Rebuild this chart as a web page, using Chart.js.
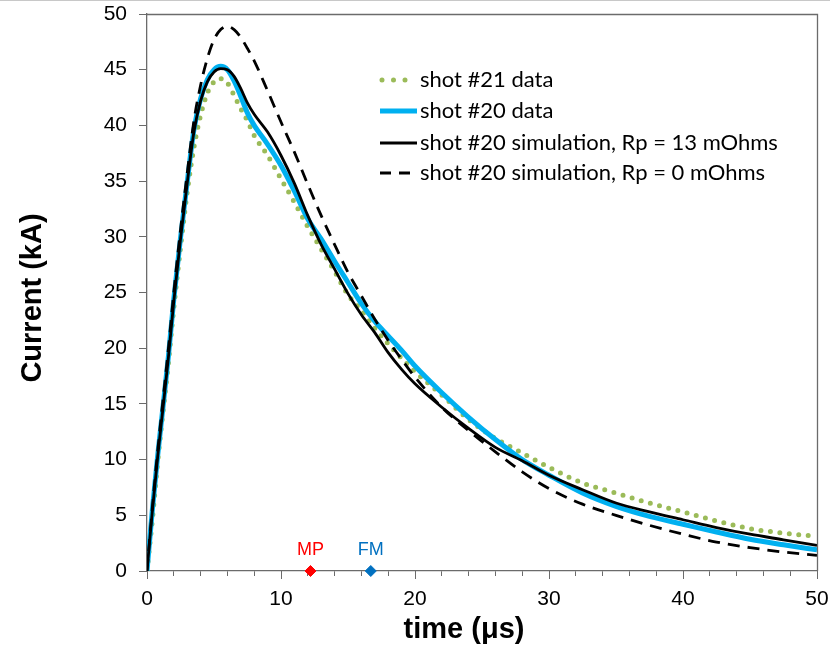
<!DOCTYPE html>
<html><head><meta charset="utf-8">
<script src="https://cdn.jsdelivr.net/npm/chart.js@4.4.1/dist/chart.umd.min.js"></script>
<style>html,body{margin:0;padding:0;background:#fff;overflow:hidden}#wrap{width:830px;height:659px;position:relative}</style>
</head><body><div id="wrap"><canvas id="c" width="830" height="659"></canvas></div>
<script>
// time axis (µs)
const timeUs = [0,0.4,0.8,1.2,1.6,2,2.5,3,3.5,4,4.5,5,5.5,6,6.5,7,7.5,8,9,10,11,12,13,14,15,16,17,18,19,20,22,24,26,28,30,32.5,35,37.5,40,42.5,45,47.5,50];
// currents (kA)
const shot21Data = [0,4.6,9.8,14.3,18.7,23.6,29.0,34.0,38.0,40.9,42.9,43.9,44.2,43.8,42.7,41.5,40.4,39.1,37.3,35.2,33.1,30.9,28.9,26.9,24.8,23.4,21.8,20.4,19.1,17.9,15.8,13.6,11.9,10.6,9.3,7.9,7.0,6.1,5.3,4.5,3.8,3.4,3.1];
const shot20Data = [0,5.5,10.4,14.8,19.3,24.4,29.9,34.9,39.6,42.4,44.1,45.0,45.3,45.0,44.0,42.6,41.1,40.0,38.3,36.4,34.1,31.6,29.8,27.8,25.9,24.0,22.4,21.1,19.8,18.4,16.0,13.8,11.8,10.0,8.6,7.0,5.8,4.9,4.2,3.5,2.85,2.35,1.9];
const sim13mOhm = [0,5.4,10.3,14.7,19.2,24.2,29.8,34.8,39.4,42.2,43.9,44.8,45.1,45.0,44.4,43.3,42.0,41.0,39.4,37.3,34.8,31.9,29.3,27.1,24.9,23.0,21.4,19.6,18.1,16.8,14.7,12.8,11.1,9.9,8.6,7.3,6.1,5.3,4.6,3.9,3.3,2.8,2.3];
const sim0mOhm = [0,5.7,10.8,15.4,20.0,25.0,30.6,35.7,40.4,43.6,46.0,47.7,48.6,48.9,48.6,47.9,46.9,45.8,43.1,40.3,37.6,34.7,31.9,29.3,26.8,24.7,22.6,20.7,19.0,17.4,14.7,12.6,10.7,8.9,7.4,6.0,5.0,4.1,3.3,2.6,2.1,1.7,1.4];
const seriesLabels = ['shot #21 data','shot #20 data','shot #20 simulation, Rp = 13 mOhms','shot #20 simulation, Rp = 0 mOhms'];
// event markers on the time axis
const markerLabels = ['MP','FM'];
const markerTimes = [12.2,16.7];
const markerValues = [0,0];
// axis ticks
const xMin = 0, xMax = 50, xMajorStep = 10, xMinorStep = 2;
const yMin = 0, yMax = 50, yStep = 5;
const xTitle = 'time (\u03bcs)';
const yTitle = 'Current (kA)';

const pts = arr => timeUs.map((t,i)=>({x:t,y:arr[i]}));
const AXIS = '#6b6b6b';
const TICKFONT = {family:'"Liberation Sans", Arial, sans-serif', size:21};
const TITLEFONT = 'bold 29px "Liberation Sans", Arial, sans-serif';

const lineStyles = [
  {borderColor:'#9BBB59', borderWidth:5, borderDash:[0,9.5], borderCapStyle:'round', order:4},
  {borderColor:'#00B0F0', borderWidth:5, borderDash:[], borderCapStyle:'butt', order:3},
  {borderColor:'#000000', borderWidth:2.8, borderDash:[], borderCapStyle:'butt', order:2},
  {borderColor:'#000000', borderWidth:2.8, borderDash:[12,8], borderCapStyle:'butt', order:1}
];
const seriesData = [shot21Data, shot20Data, sim13mOhm, sim0mOhm];
const markerColors = ['#FF0000','#0070C0'];

const datasets = seriesData.map((d,i)=>Object.assign({
  label: seriesLabels[i], data: pts(d), showLine:true, pointRadius:0, fill:false,
  cubicInterpolationMode:'monotone', isSeries:true
}, lineStyles[i]));
markerLabels.forEach((m,i)=>{
  datasets.push({label:m, data:[{x:markerTimes[i], y:markerValues[i]}], showLine:false,
    pointStyle:'rectRot', pointRadius:5.5, pointBackgroundColor:markerColors[i], pointBorderColor:markerColors[i],
    pointBorderWidth:1, clip:false, order:0, isMarker:true, markerColor:markerColors[i]});
});

const decorPlugin = {
  id:'decor',
  beforeDraw(chart){
    const c = chart.ctx;
    c.save(); c.strokeStyle='#c8c8c8'; c.lineWidth=1;
    c.beginPath(); c.moveTo(0,0.5); c.lineTo(chart.width,0.5); c.stroke(); c.restore();
  },
  afterDraw(chart){
    const c = chart.ctx, a = chart.chartArea;
    const xs = chart.scales.x;
    c.save();
    c.strokeStyle = AXIS; c.lineWidth = 1.3;
    c.beginPath();
    c.moveTo(a.left-0.5, Math.round(a.top)+0.5); c.lineTo(Math.round(a.right)+0.5, Math.round(a.top)+0.5);
    c.lineTo(Math.round(a.right)+0.5, a.bottom);
    c.stroke();
    // longer major ticks
    c.lineWidth = 1;
    for (let v = xMin; v <= xMax; v += xMajorStep){
      const px = Math.round(xs.getPixelForValue(v))+0.5;
      c.beginPath(); c.moveTo(px, a.bottom); c.lineTo(px, a.bottom+8); c.stroke();
    }
    // axis titles
    c.fillStyle='#000'; c.font = TITLEFONT; c.textAlign='center'; c.textBaseline='middle';
    c.fillText(xTitle, 464, 630);
    c.save(); c.translate(33, 298); c.rotate(-Math.PI/2); c.fillText(yTitle, 0, 0); c.restore();
    // marker labels
    chart.data.datasets.forEach((ds,i)=>{
      if(!ds.isMarker) return;
      const p = chart.getDatasetMeta(i).data[0];
      c.fillStyle = ds.markerColor;
      c.font = '18px "Liberation Sans", Arial, sans-serif';
      c.textAlign='center'; c.textBaseline='alphabetic';
      c.fillText(ds.label, p.x, p.y-16);
    });
    // legend
    const lx0 = 380, lx1 = 417, tx = 420, rows = [80,111,143,173];
    c.font = '22px Lato, "Open Sans", sans-serif';
    c.textAlign='left'; c.textBaseline='middle'; c.fillStyle='#000';
    chart.data.datasets.forEach((ds,i)=>{
      if(!ds.isSeries) return;
      const y = rows[i];
      c.save();
      c.strokeStyle = ds.borderColor; c.lineWidth = ds.borderWidth; c.lineCap = ds.borderCapStyle;
      if (i===0){ c.setLineDash([0,11.5]); c.beginPath(); c.moveTo(lx0+2,y); c.lineTo(lx0+26,y); c.stroke(); }
      else if (i===3){ c.setLineDash([11,8]); c.beginPath(); c.moveTo(lx0,y); c.lineTo(lx1,y); c.stroke(); }
      else { c.beginPath(); c.moveTo(lx0,y); c.lineTo(lx1,y); c.stroke(); }
      c.restore();
      c.fillStyle='#000';
      c.fillText(ds.label, tx, y);
    });
    c.restore();
  }
};

new Chart(document.getElementById('c'), {
  type:'scatter',
  data:{datasets},
  options:{
    responsive:false, animation:false, devicePixelRatio:1,
    layout:{padding:{top:14,right:13,left:0,bottom:0}},
    plugins:{legend:{display:false}, tooltip:{enabled:false}},
    scales:{
      x:{type:'linear', min:xMin, max:xMax, position:'bottom',
        afterFit(s){ s.height = 88; s.paddingLeft = 0; s.paddingRight = 0; },
        ticks:{stepSize:xMinorStep, autoSkip:false, maxRotation:0, color:'#000', font:TICKFONT, padding:11,
          callback:(v)=> (v % xMajorStep === 0 ? String(v) : '')},
        grid:{drawOnChartArea:false, drawTicks:true, tickLength:5, color:AXIS, tickColor:AXIS},
        border:{color:AXIS, width:1.3},
        title:{display:false, text:xTitle}
      },
      y:{type:'linear', min:yMin, max:yMax, position:'left',
        afterFit(s){ s.width = 147; s.paddingTop = 0; s.paddingBottom = 0; },
        ticks:{stepSize:yStep, color:'#000', font:TICKFONT, padding:12},
        grid:{drawOnChartArea:false, drawTicks:true, tickLength:8, color:AXIS, tickColor:AXIS},
        border:{color:AXIS, width:1.3},
        title:{display:false, text:yTitle}
      }
    }
  },
  plugins:[decorPlugin]
});
</script></body></html>
